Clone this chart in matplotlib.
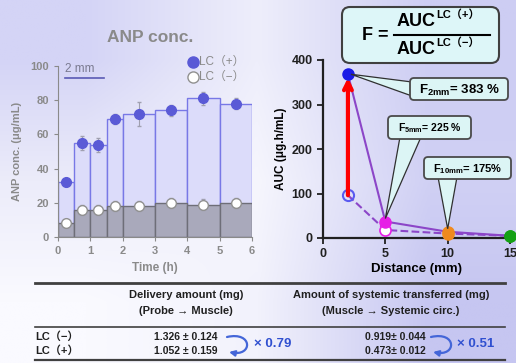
import numpy as np
import matplotlib
matplotlib.use('Agg')
import matplotlib.pyplot as plt
from matplotlib.patches import FancyBboxPatch, Polygon, FancyArrowPatch
from matplotlib.lines import Line2D
from matplotlib.path import Path
from matplotlib.transforms import IdentityTransform

plt.rcParams['font.family'] = ['Liberation Sans', 'Noto Sans CJK JP', 'DejaVu Sans']
plt.rcParams['mathtext.fontset'] = 'custom'
plt.rcParams['mathtext.rm'] = 'Liberation Sans'
plt.rcParams['mathtext.bf'] = 'Liberation Sans:bold'

# ANP concentration per sampling interval (2 mm)
bin_start = [0, 0.5, 1, 1.5, 2, 3, 4, 5]
bin_width = [0.5, 0.5, 0.5, 0.5, 1, 1, 1, 1]
conc_plus = [32, 55, 54, 69, 72, 74, 81, 78]
err_plus = [2, 4, 4, 3, 7, 3, 4, 3]
conc_minus = [8, 16, 16, 18, 18, 20, 19, 20]
err_minus = [2, 3, 3, 3, 3, 3, 3, 3]

# AUC vs distance
distance = [2, 5, 10, 15]
auc_plus = [368, 37, 14, 5]
auc_minus = [96, 18, 10, 5]
point_colors = ['#1a1ae6', '#e61ee6', '#f08a1e', '#14a014']

# F callouts
f_labels = [r'F$_{\mathbf{2mm}}$= 383 %', r'F$_{\mathbf{5mm}}$= 225 %', r'F$_{\mathbf{10mm}}$= 175%']

# table
row_labels = ['LC（−）', 'LC（+）']
delivery = ['1.326 ± 0.124', '1.052 ± 0.159']
systemic = ['0.919± 0.044', '0.473± 0.012']
ratios = ['× 0.79', '× 0.51']

W, H = 516, 363
fig = plt.figure(figsize=(W / 100, H / 100), dpi=100)
tr = IdentityTransform()


def P(x, y):
    return (x, H - y)


# background gradient
bg = fig.add_axes([0, 0, 1, 1], zorder=-10)
bg.axis('off')
grad = np.array([
    [[212, 212, 246], [238, 238, 251], [205, 205, 243]],
    [[236, 236, 250], [246, 246, 253], [208, 208, 244]],
    [[250, 250, 255], [242, 242, 252], [198, 198, 241]],
]) / 255
bg.imshow(grad, extent=[0, 1, 0, 1], aspect='auto', interpolation='bilinear')
bg.set_xlim(0, 1)
bg.set_ylim(0, 1)

# ---- left panel ----
gray = '#8a8a8a'
ax1 = fig.add_axes([58 / W, 126 / H, 194 / W, 171 / H])
ax1.set_facecolor('none')
ax1.bar(bin_start, conc_plus, width=bin_width, align='edge', color='#dcdcfa',
        edgecolor='#7878e6', lw=1, zorder=1)
ax1.bar(bin_start, conc_minus, width=bin_width, align='edge', color='#a9a9bb',
        edgecolor='#6e6e78', lw=1, zorder=2)
mid = np.array(bin_start) + np.array(bin_width) / 2
ax1.errorbar(mid, conc_plus, yerr=err_plus, fmt='o', color='#5a5ad6', ms=7,
             ecolor='#a0a0b0', elinewidth=0.8, capsize=1.5, zorder=4)
ax1.errorbar(mid, conc_minus, yerr=err_minus, fmt='o', mfc='white', mec='#909090',
             ms=7, ecolor='#a0a0b0', elinewidth=0.8, capsize=1.5, zorder=4)
ax1.set_xlim(0, 6)
ax1.set_ylim(0, 100)
ax1.set_xticks(range(7))
ax1.set_yticks(range(0, 101, 20))
for s in ['top', 'right']:
    ax1.spines[s].set_visible(False)
for s in ['left', 'bottom']:
    ax1.spines[s].set_color(gray)
ax1.tick_params(colors=gray, labelsize=8, length=3)
for lab in ax1.get_xticklabels() + ax1.get_yticklabels():
    lab.set_fontweight('bold')
ax1.set_xlabel('Time (h)', color=gray, fontsize=8.5, fontweight='bold', labelpad=4)
ax1.set_ylabel('ANP conc. (μg/mL)', color=gray, fontsize=8, fontweight='bold', labelpad=6)

fig.text(*P(150, 38), 'ANP conc.', transform=tr, ha='center', va='center',
         fontsize=12.5, fontweight='bold', color='#8a8a8a')
fig.text(*P(65, 72), '2 mm', transform=tr, ha='left', va='baseline',
         fontsize=8.5, color='#7a7a90')
fig.add_artist(Line2D([65, 104], [H - 78, H - 78], transform=tr, color='#5a5ab4', lw=1.2))
fig.add_artist(Line2D([193], [H - 62], transform=tr, marker='o', ms=8, color='#5a5ad6'))
fig.add_artist(Line2D([193], [H - 77], transform=tr, marker='o', ms=8, mfc='white', mec='#909090'))
fig.text(*P(199, 62), 'LC（+）', transform=tr, ha='left', va='center', fontsize=8.5, color=gray)
fig.text(*P(199, 77), 'LC（−）', transform=tr, ha='left', va='center', fontsize=8.5, color=gray)

# ---- right panel ----
ax2 = fig.add_axes([323 / W, 125 / H, 187 / W, 178 / H])
ax2.set_facecolor('none')
ax2.plot(distance, auc_plus, color='#8c46c8', lw=1.5, zorder=2)
ax2.plot(distance, auc_minus, color='#8c46c8', lw=1.5, ls='--', zorder=2)
ax2.annotate('', xy=(distance[0], auc_plus[0] - 8), xytext=(distance[0], auc_minus[0]),
             arrowprops=dict(arrowstyle='->', lw=3, color='red', mutation_scale=14,
                             shrinkA=0, shrinkB=0), zorder=5)
for i, c in enumerate(point_colors):
    ax2.plot(distance[i], auc_plus[i], 'o', color=c, ms=8, zorder=6, clip_on=False)
    if i == 0:
        ax2.plot(distance[i], auc_minus[i], 'o', mfc='none', mec='#5a5af0', mew=1.5,
                 ms=8, zorder=4, clip_on=False)
    elif i == 1:
        ax2.plot(distance[i], auc_minus[i], 'o', mfc='white', mec=c, mew=1.2,
                 ms=8, zorder=4, clip_on=False)
    else:
        ax2.plot(distance[i], auc_minus[i], 'o', color=c, ms=8, zorder=4, clip_on=False)
ax2.set_xlim(0, 15)
ax2.set_ylim(0, 400)
ax2.set_xticks([0, 5, 10, 15])
ax2.set_yticks([0, 100, 200, 300, 400])
for s in ['top', 'right']:
    ax2.spines[s].set_visible(False)
for s in ['left', 'bottom']:
    ax2.spines[s].set_linewidth(1.6)
    ax2.spines[s].set_color('#202020')
ax2.tick_params(labelsize=9, length=4, width=1.3, colors='#202020')
for lab in ax2.get_xticklabels() + ax2.get_yticklabels():
    lab.set_fontweight('bold')
ax2.set_xlabel('Distance (mm)', fontsize=9.5, fontweight='bold', labelpad=2)
ax2.set_ylabel('AUC (μg.h/mL)', fontsize=8.5, fontweight='bold', labelpad=3)

# callouts
box_fc = '#dcf5f5'
box_ec = '#4a4a4a'
boxes = [(410, 78, 508, 100), (388, 116, 471, 139), (424, 157, 511, 179)]
bases = [((412, 82), (412, 96)), ((400, 137), (421, 137)), ((438, 177), (457, 177))]
tip_shift = [(3, 0), (0, 3), (0, 3)]
fsizes = [9.5, 7.5, 8]
for i in range(3):
    tx, ty = ax2.transData.transform((distance[i], auc_plus[i]))
    tip = (tx + tip_shift[i][0], ty + tip_shift[i][1])
    (bx0, by0), (bx1, by1) = bases[i]
    fig.add_artist(Polygon([tip, P(bx0, by0), P(bx1, by1)], closed=True,
                           transform=tr, fc=box_fc, ec='#303030', lw=0.9, zorder=7))
    x0, y0, x1, y1 = boxes[i]
    fig.add_artist(FancyBboxPatch(P(x0, y1), x1 - x0, y1 - y0, transform=tr,
                                  boxstyle='round,pad=0,rounding_size=4',
                                  fc=box_fc, ec=box_ec, lw=1.3, zorder=8))
    fig.text(*P((x0 + x1) / 2, (y0 + y1) / 2 + 1), f_labels[i], transform=tr,
             ha='center', va='center', fontsize=fsizes[i], fontweight='bold', zorder=9)

# formula box
fig.add_artist(FancyBboxPatch(P(342, 63), 157, 56, transform=tr,
                              boxstyle='round,pad=0,rounding_size=8',
                              fc='#ddf6f8', ec='#404040', lw=1.5, zorder=8))
fig.text(*P(362, 36), 'F =', transform=tr, ha='left', va='center', fontsize=13,
         fontweight='bold', zorder=9)
fig.add_artist(Line2D([394, 490], [H - 35, H - 35], transform=tr, color='black', lw=1.5, zorder=9))
fig.text(*P(397, 22), 'AUC', transform=tr, ha='left', va='center', fontsize=13,
         fontweight='bold', zorder=9)
fig.text(*P(436, 15), 'LC（+）', transform=tr, ha='left', va='center', fontsize=8,
         fontweight='bold', zorder=9)
fig.text(*P(397, 50), 'AUC', transform=tr, ha='left', va='center', fontsize=13,
         fontweight='bold', zorder=9)
fig.text(*P(436, 43), 'LC（−）', transform=tr, ha='left', va='center', fontsize=8,
         fontweight='bold', zorder=9)

# ---- table ----
tc = '#202020'
fig.add_artist(Line2D([35, 505], [H - 283, H - 283], transform=tr, color='#404040', lw=2))
fig.add_artist(Line2D([35, 505], [H - 327, H - 327], transform=tr, color='#404040', lw=1.2))
fig.add_artist(Line2D([35, 505], [H - 360, H - 360], transform=tr, color='#404040', lw=1.6))
fig.text(*P(186, 295), 'Delivery amount (mg)', transform=tr, ha='center', va='center',
         fontsize=8, fontweight='bold', color=tc)
fig.text(*P(186, 311), '(Probe → Muscle)', transform=tr, ha='center', va='center',
         fontsize=8, fontweight='bold', color=tc)
fig.text(*P(391, 295), 'Amount of systemic transferred (mg)', transform=tr, ha='center',
         va='center', fontsize=8, fontweight='bold', color=tc)
fig.text(*P(391, 311), '(Muscle → Systemic circ.)', transform=tr, ha='center', va='center',
         fontsize=8, fontweight='bold', color=tc)
row_y = [337, 351]
for j in range(2):
    fig.text(*P(35, row_y[j]), row_labels[j], transform=tr, ha='left', va='center',
             fontsize=8, fontweight='bold', color=tc)
    fig.text(*P(186, row_y[j]), delivery[j], transform=tr, ha='center', va='center',
             fontsize=7.5, fontweight='bold', color=tc)
    fig.text(*P(395, row_y[j]), systemic[j], transform=tr, ha='center', va='center',
             fontsize=7.5, fontweight='bold', color=tc)

arrow_x = [227, 431]
text_x = [254, 457]
for k in range(2):
    x = arrow_x[k]
    verts = [P(x, 337), P(x + 26, 331), P(x + 26, 357), P(x + 2, 352)]
    path = Path(verts, [Path.MOVETO, Path.CURVE4, Path.CURVE4, Path.CURVE4])
    fig.add_artist(FancyArrowPatch(path=path, transform=tr, arrowstyle='-|>',
                                   mutation_scale=8, color='#4466d8', lw=1.6))
    fig.text(*P(text_x[k], 344), ratios[k], transform=tr, ha='left', va='center',
             fontsize=9.5, fontweight='bold', color='#3050d0')

fig.savefig('out.png', dpi=100)
